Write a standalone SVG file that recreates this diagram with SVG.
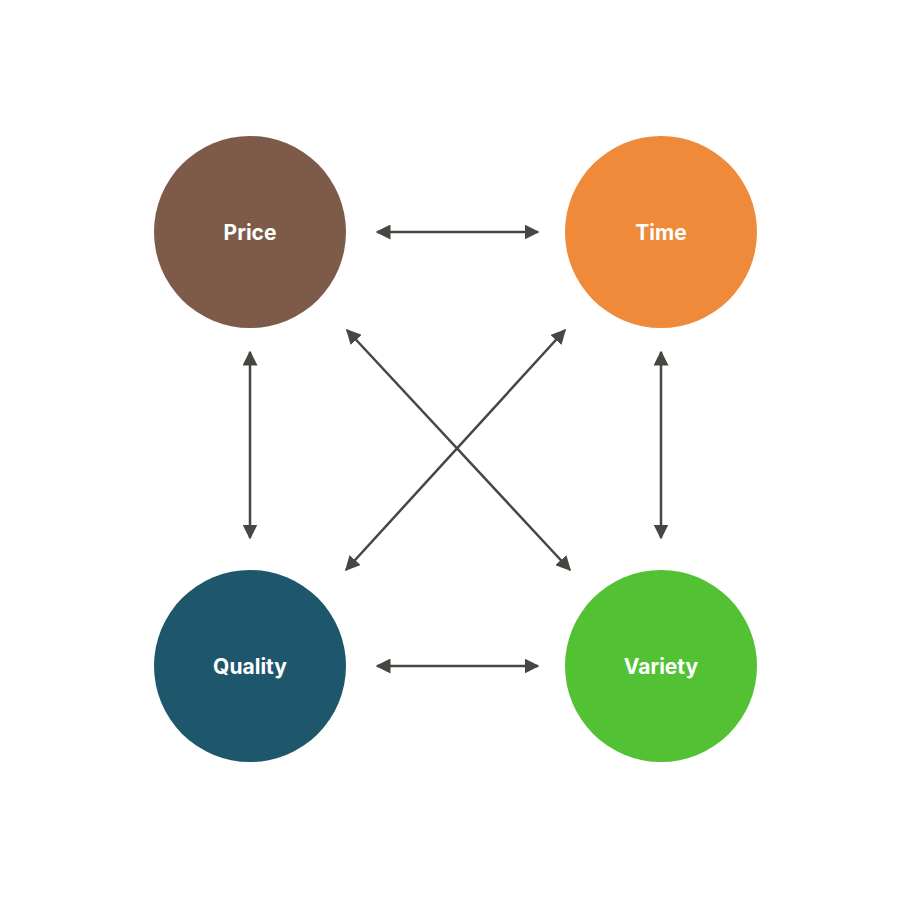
<svg xmlns="http://www.w3.org/2000/svg" width="910" height="899" viewBox="0 0 910 899">
<style>
.t{font-family:Inter,"Liberation Sans",sans-serif;font-weight:700;font-size:21px;fill:#fff;text-anchor:middle;dominant-baseline:central}
.c{stroke:#474741;stroke-width:2.5;fill:none;marker-start:url(#a);marker-end:url(#a)}
</style>
<defs>
<marker id="a" viewBox="0 0 10 10" refX="9" refY="5" markerWidth="6" markerHeight="6" orient="auto-start-reverse" markerUnits="strokeWidth">
<path d="M0,0L10,5L0,10z" fill="#474741"/>
</marker>
</defs>
<rect width="910" height="899" fill="#fff"/>
<g id="connectors">
<line class="c" x1="377" y1="232" x2="538" y2="232"/>
<line class="c" x1="377" y1="666" x2="538" y2="666"/>
<line class="c" x1="250" y1="352" x2="250" y2="538"/>
<line class="c" x1="661" y1="352" x2="661" y2="538"/>
<line class="c" x1="347" y1="330" x2="570" y2="570"/>
<line class="c" x1="565" y1="330" x2="346" y2="570"/>
</g>
<g id="price"><circle cx="250" cy="232" r="96" fill="#7E5A48"/><text class="t" x="250" y="232">Price</text></g>
<g id="time"><circle cx="661" cy="232" r="96" fill="#EE8A3A"/><text class="t" x="661" y="232">Time</text></g>
<g id="quality"><circle cx="250" cy="666" r="96" fill="#1E576B"/><text class="t" x="250" y="666">Quality</text></g>
<g id="variety"><circle cx="661" cy="666" r="96" fill="#52C234"/><text class="t" x="661" y="666">Variety</text></g>
</svg>
